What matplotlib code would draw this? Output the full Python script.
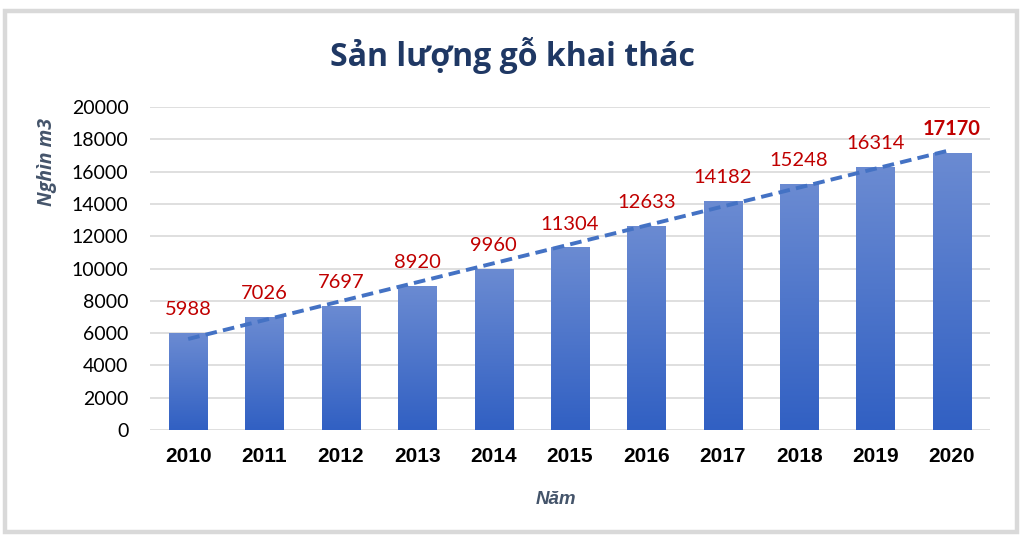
import matplotlib
matplotlib.use("Agg")
import matplotlib.pyplot as plt
import numpy as np
from matplotlib.patches import Rectangle
from matplotlib.colors import LinearSegmentedColormap

years = ["2010", "2011", "2012", "2013", "2014", "2015", "2016", "2017", "2018", "2019", "2020"]
values = [5988, 7026, 7697, 8920, 9960, 11304, 12633, 14182, 15248, 16314, 17170]
yticks = [0, 2000, 4000, 6000, 8000, 10000, 12000, 14000, 16000, 18000, 20000]

title = "Sản lượng gỗ khai thác"
ylabel = "Nghìn m3"
xlabel = "Năm"

W, H = 1024, 540
fig = plt.figure(figsize=(W / 100, H / 100), dpi=100)
fig.patch.set_facecolor("white")

# outer frame
fig.patches.append(Rectangle((5 / W, 8 / H), 1012 / W, 521 / H, transform=fig.transFigure,
                             fill=False, edgecolor="#D9D9D9", linewidth=3.2))

ax = fig.add_axes([150 / W, 110 / H, 840 / W, 323 / H])
x = np.arange(len(years))
bars = ax.bar(x, values, width=0.5, color="none", edgecolor="none", zorder=3)

cmap = LinearSegmentedColormap.from_list("g", ["#3160C3", "#6B8BD2"])
grad = np.linspace(0, 1, 256).reshape(-1, 1)
for b in bars:
    x0, w, h = b.get_x(), b.get_width(), b.get_height()
    im = ax.imshow(grad, cmap=cmap, aspect="auto", origin="lower",
                   extent=[x0, x0 + w, 0, h], zorder=3)
    im.set_clip_path(b)

ax.set_xlim(-0.5, len(years) - 0.5)
ax.set_ylim(0, 20000)
ax.set_yticks(yticks)
ax.set_yticklabels([str(v) for v in yticks], fontfamily="Lato", fontsize=14, color="#000000")
ax.set_xticks(x)
ax.set_xticklabels(years, fontfamily="Liberation Sans", fontweight="bold", fontsize=15, color="#000000")
ax.tick_params(axis="both", length=0)
ax.tick_params(axis="y", pad=15.5)
ax.tick_params(axis="x", pad=12)
for s in ax.spines.values():
    s.set_visible(False)
ax.grid(axis="y", color="#D9D9D9", linewidth=1.2, zorder=0)
ax.set_axisbelow(True)

# linear trendline
coef = np.polyfit(x, values, 1)
ax.plot(x, np.polyval(coef, x), color="#4472C4", linewidth=2.8, linestyle=(0, (3.0, 1.6)), zorder=4,
        dash_capstyle="butt")

for i, v in enumerate(values):
    last = i == len(values) - 1
    ax.text(x[i], v + 1450, str(v), ha="center", va="center", fontfamily="Lato",
            fontsize=14.5, color="#C00000", fontweight="bold" if last else "normal", zorder=5)

fig.text(512 / W, 1 - 55 / H, title, ha="center", va="center", fontfamily="Open Sans",
         fontweight="bold", fontsize=23, color="#1F3864")
fig.text(47 / W, 1 - 162 / H, ylabel, ha="center", va="center", rotation=90, fontfamily="Open Sans",
         fontstyle="italic", fontweight="bold", fontsize=14, color="#44546A")
fig.text(556 / W, 1 - 500 / H, xlabel, ha="center", va="center", fontfamily="Liberation Sans",
         fontstyle="italic", fontweight="bold", fontsize=13.5, color="#44546A")

fig.savefig("out.png", dpi=100, facecolor="white")
